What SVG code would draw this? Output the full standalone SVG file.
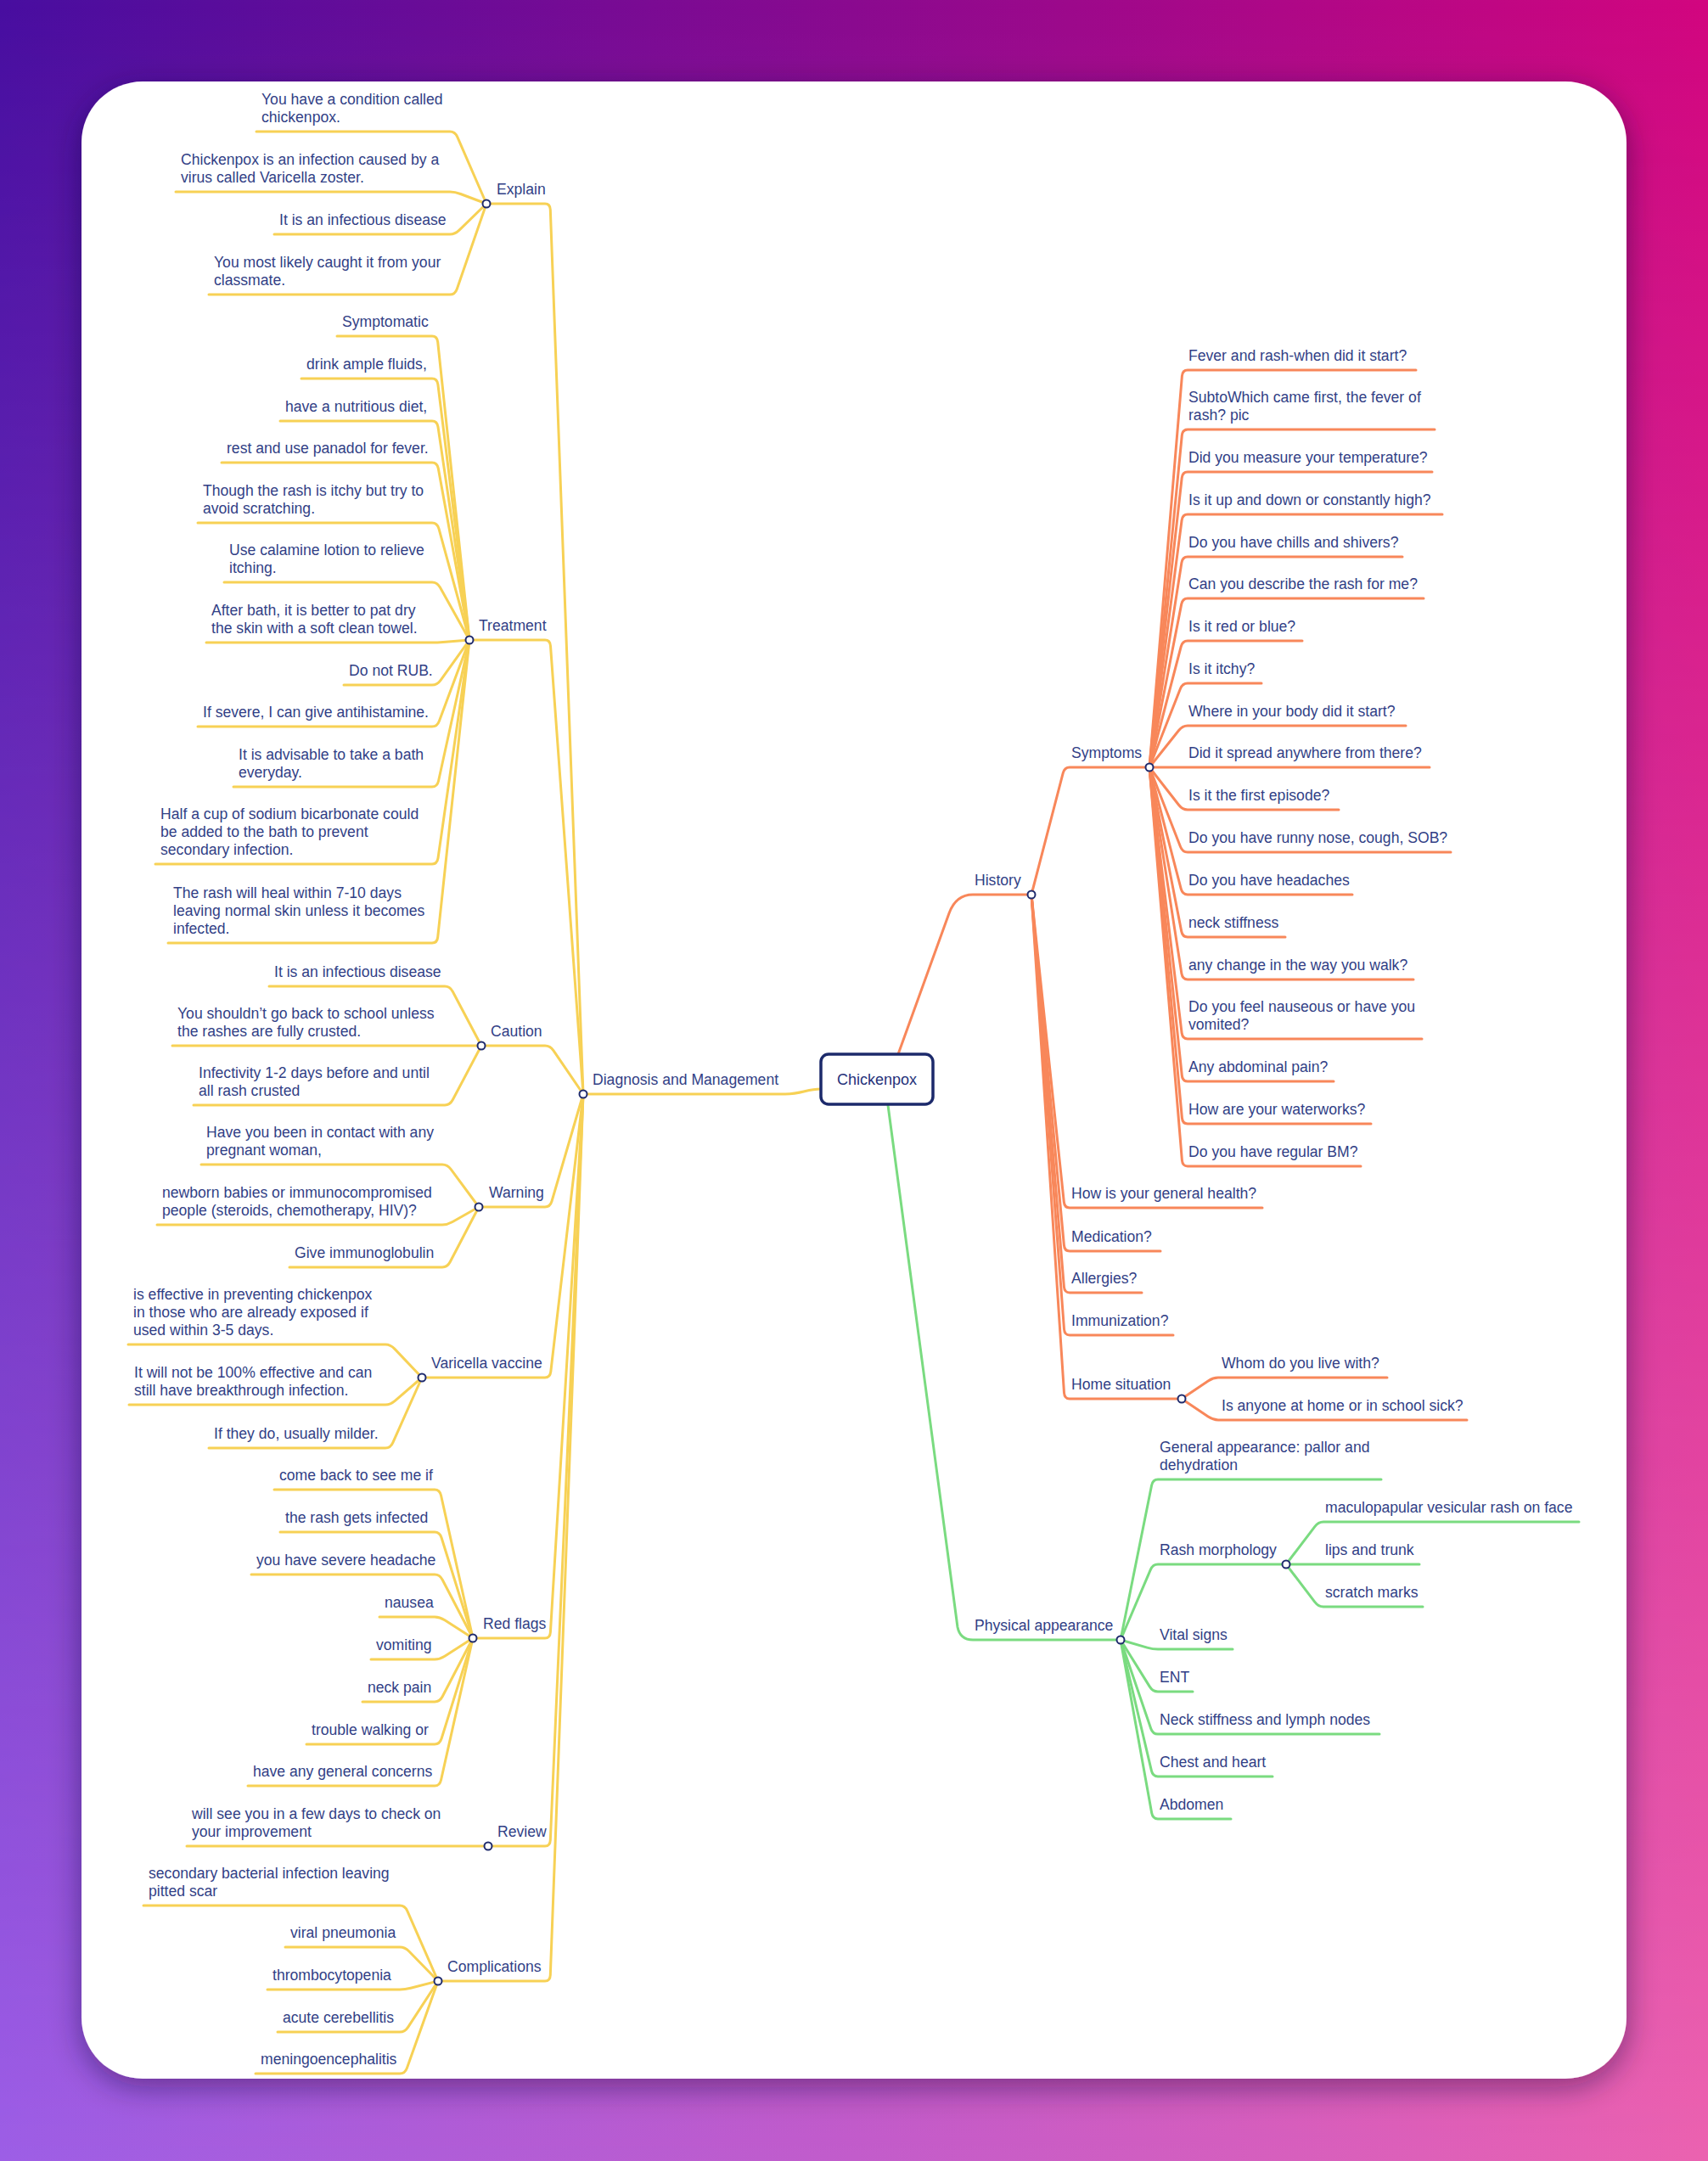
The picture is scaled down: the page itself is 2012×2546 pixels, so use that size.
<svg xmlns="http://www.w3.org/2000/svg" width="2012" height="2546" viewBox="0 0 2012 2546">
<defs>
<linearGradient id="bgTop" x1="0" y1="0" x2="1" y2="0">
<stop offset="0" stop-color="#480ea0"/>
<stop offset="0.5" stop-color="#8a0a8f"/>
<stop offset="1" stop-color="#d2067f"/>
</linearGradient>
<linearGradient id="bgBot" x1="0" y1="0" x2="1" y2="0">
<stop offset="0" stop-color="#9d5ee6"/>
<stop offset="0.5" stop-color="#c25ccb"/>
<stop offset="1" stop-color="#eb62b0"/>
</linearGradient>
<linearGradient id="fadeV" x1="0" y1="0" x2="0" y2="1">
<stop offset="0" stop-color="#000"/>
<stop offset="1" stop-color="#fff"/>
</linearGradient>
<mask id="bgMask"><rect x="0" y="0" width="2012" height="2546" fill="url(#fadeV)"/></mask>
<filter id="shadow" x="-5%" y="-5%" width="110%" height="110%">
<feDropShadow dx="0" dy="10" stdDeviation="18" flood-color="#1a0630" flood-opacity="0.45"/>
</filter>
</defs>
<style>
.t{font-family:"Liberation Sans",Arial,sans-serif;font-size:17.6px;fill:#323f86}
.c{font-family:"Liberation Sans",Arial,sans-serif;font-size:18px;fill:#25327a;text-anchor:middle}
.y{fill:none;stroke:#f7d155;stroke-width:3;stroke-linecap:round;stroke-linejoin:round}
.o{fill:none;stroke:#f8875a;stroke-width:3;stroke-linecap:round;stroke-linejoin:round}
.g{fill:none;stroke:#7adb80;stroke-width:3;stroke-linecap:round;stroke-linejoin:round}
.d{fill:#fff;stroke:#1f2b6d;stroke-width:2}
</style>
<rect x="0" y="0" width="2012" height="2546" fill="url(#bgTop)"/>
<rect x="0" y="0" width="2012" height="2546" fill="url(#bgBot)" mask="url(#bgMask)"/>
<rect x="96" y="96" width="1820" height="2353" rx="72" fill="#fff" filter="url(#shadow)"/>

<g id="connectors">
<!-- Explain -->
<path class="y" d="M302,155 H530 Q536,155 538.8,161.4 L573,240"/>
<path class="y" d="M207,226 H530 Q536,226 542.5,228.5 L573,240"/>
<path class="y" d="M323,276 H530 Q536,276 541,271.1 L573,240"/>
<path class="y" d="M246,347 H530 Q536,347 538.3,340.4 L573,240"/>
<path class="y" d="M573,240 H642 Q648,240 648.3,247 L687,1289"/>
<!-- Treatment -->
<path class="y" d="M397,396 H509 Q515,396 515.7,403 L553,754"/>
<path class="y" d="M355,446 H509 Q515,446 515.9,453 L553,754"/>
<path class="y" d="M330,496 H509 Q515,496 516,503 L553,754"/>
<path class="y" d="M261,545 H509 Q515,545 516.3,551.9 L553,754"/>
<path class="y" d="M233,616 H509 Q515,616 516.9,622.7 L553,754"/>
<path class="y" d="M264,686 H509 Q515,686 518.4,692.1 L553,754"/>
<path class="y" d="M243,757 H509 Q515,757 522,756.5 L553,754"/>
<path class="y" d="M405,807 H509 Q515,807 519.1,801.3 L553,754"/>
<path class="y" d="M233,856 H509 Q515,856 517.4,849.4 L553,754"/>
<path class="y" d="M275,927 H509 Q515,927 516.5,920.2 L553,754"/>
<path class="y" d="M183,1018 H509 Q515,1018 516,1011 L553,754"/>
<path class="y" d="M198,1111 H509 Q515,1111 515.7,1104 L553,754"/>
<path class="y" d="M553,754 H642 Q648,754 648.5,761 L687,1289"/>
<!-- Caution -->
<path class="y" d="M317,1162 H524 Q530,1162 533.3,1168.2 L567,1232"/>
<path class="y" d="M203,1232 H567"/>
<path class="y" d="M228,1302 H524 Q530,1302 533.3,1295.8 L567,1232"/>
<path class="y" d="M567,1232 H642 Q648,1232 651.9,1237.7 L687,1289"/>
<!-- Warning -->
<path class="y" d="M237,1372 H521 Q527,1372 531.2,1377.6 L564,1422"/>
<path class="y" d="M185,1443 H521 Q527,1443 533.1,1439.5 L564,1422"/>
<path class="y" d="M341,1493 H521 Q527,1493 530.2,1486.8 L564,1422"/>
<path class="y" d="M564,1422 H642 Q648,1422 650,1415.3 L687,1289"/>
<!-- Varicella vaccine -->
<path class="y" d="M151,1584 H454 Q460,1584 464.8,1589.1 L497,1623"/>
<path class="y" d="M152,1655 H454 Q460,1655 465.3,1650.4 L497,1623"/>
<path class="y" d="M246,1706 H454 Q460,1706 462.8,1699.6 L497,1623"/>
<path class="y" d="M497,1623 H642 Q648,1623 648.8,1616 L687,1289"/>
<!-- Red flags -->
<path class="y" d="M323,1755 H512 Q518,1755 519.5,1761.8 L557,1930"/>
<path class="y" d="M330,1805 H512 Q518,1805 520.1,1811.7 L557,1930"/>
<path class="y" d="M296,1855 H512 Q518,1855 521.2,1861.2 L557,1930"/>
<path class="y" d="M447,1905 H512 Q518,1905 523.9,1908.8 L557,1930"/>
<path class="y" d="M437,1955 H512 Q518,1955 523.9,1951.2 L557,1930"/>
<path class="y" d="M427,2005 H512 Q518,2005 521.2,1998.8 L557,1930"/>
<path class="y" d="M361,2055 H512 Q518,2055 520.1,2048.3 L557,1930"/>
<path class="y" d="M292,2104 H512 Q518,2104 519.5,2097.2 L557,1930"/>
<path class="y" d="M557,1930 H642 Q648,1930 648.4,1923 L687,1289"/>
<!-- Review -->
<path class="y" d="M220,2175 H575"/>
<path class="y" d="M575,2175 H642 Q648,2175 648.3,2168 L687,1289"/>
<!-- Complications -->
<path class="y" d="M169,2245 H471 Q477,2245 479.8,2251.4 L516,2334"/>
<path class="y" d="M336,2294 H471 Q477,2294 481.9,2299 L516,2334"/>
<path class="y" d="M315,2344 H471 Q477,2344 483.8,2342.3 L516,2334"/>
<path class="y" d="M327,2394 H471 Q477,2394 480.8,2388.1 L516,2334"/>
<path class="y" d="M301,2443 H471 Q477,2443 479.4,2436.4 L516,2334"/>
<path class="y" d="M516,2334 H642 Q648,2334 648.3,2327 L687,1289"/>
<!-- Diagnosis and Management to centre -->
<path class="y" d="M687,1289 H925 C945,1289 950,1283 967,1283"/>
<!-- History -->
<path class="o" d="M1058,1242 L1118,1076 Q1126,1054 1146,1054 H1215"/>
<path class="o" d="M1215,1054 L1252.2,910.8 Q1254,904 1260,904 H1354"/>
<path class="o" d="M1215,1054 L1253.3,1416 Q1254,1423 1260,1423 H1487"/>
<path class="o" d="M1215,1054 L1253.4,1467 Q1254,1474 1260,1474 H1367"/>
<path class="o" d="M1215,1054 L1253.4,1516 Q1254,1523 1260,1523 H1345"/>
<path class="o" d="M1215,1054 L1253.5,1566 Q1254,1573 1260,1573 H1382"/>
<path class="o" d="M1215,1054 L1253.5,1641 Q1254,1648 1260,1648 H1392"/>
<!-- Symptoms children -->
<path class="o" d="M1354,904 L1392.4,443 Q1393,436 1399,436 H1668"/>
<path class="o" d="M1354,904 L1392.3,513 Q1393,506 1399,506 H1690"/>
<path class="o" d="M1354,904 L1392.2,563 Q1393,556 1399,556 H1687"/>
<path class="o" d="M1354,904 L1392.1,613 Q1393,606 1399,606 H1699"/>
<path class="o" d="M1354,904 L1391.9,662.9 Q1393,656 1399,656 H1652"/>
<path class="o" d="M1354,904 L1391.7,711.9 Q1393,705 1399,705 H1677"/>
<path class="o" d="M1354,904 L1391.2,761.8 Q1393,755 1399,755 H1534"/>
<path class="o" d="M1354,904 L1390.4,811.5 Q1393,805 1399,805 H1486"/>
<path class="o" d="M1354,904 L1388.6,860.5 Q1393,855 1399,855 H1656"/>
<path class="o" d="M1354,904 H1684"/>
<path class="o" d="M1354,904 L1388.7,948.5 Q1393,954 1399,954 H1577"/>
<path class="o" d="M1354,904 L1390.5,997.5 Q1393,1004 1399,1004 H1709"/>
<path class="o" d="M1354,904 L1391.2,1047.2 Q1393,1054 1399,1054 H1593"/>
<path class="o" d="M1354,904 L1391.7,1097.1 Q1393,1104 1399,1104 H1514"/>
<path class="o" d="M1354,904 L1391.9,1147.1 Q1393,1154 1399,1154 H1665"/>
<path class="o" d="M1354,904 L1392.1,1217 Q1393,1224 1399,1224 H1675"/>
<path class="o" d="M1354,904 L1392.3,1267 Q1393,1274 1399,1274 H1571"/>
<path class="o" d="M1354,904 L1392.4,1317 Q1393,1324 1399,1324 H1615"/>
<path class="o" d="M1354,904 L1392.4,1367 Q1393,1374 1399,1374 H1603"/>
<!-- Home situation children -->
<path class="o" d="M1392,1648 L1423.2,1626.9 Q1429,1623 1435,1623 H1634"/>
<path class="o" d="M1392,1648 L1423.2,1669.1 Q1429,1673 1435,1673 H1728"/>
<!-- Physical appearance -->
<path class="g" d="M1046,1302 L1128,1917 Q1131,1932 1146,1932 H1320"/>
<path class="g" d="M1320,1932 L1356.6,1750 Q1358,1743 1364,1743 H1627"/>
<path class="g" d="M1320,1932 L1355.3,1849.4 Q1358,1843 1364,1843 H1515"/>
<path class="g" d="M1320,1932 L1351.3,1941.1 Q1358,1943 1364,1943 H1452"/>
<path class="g" d="M1320,1932 L1354.3,1987.1 Q1358,1993 1364,1993 H1405"/>
<path class="g" d="M1320,1932 L1355.7,2036.4 Q1358,2043 1364,2043 H1625"/>
<path class="g" d="M1320,1932 L1356.4,2086.2 Q1358,2093 1364,2093 H1499"/>
<path class="g" d="M1320,1932 L1356.7,2136.1 Q1358,2143 1364,2143 H1450"/>
<path class="g" d="M1515,1843 L1548.8,1798.6 Q1553,1793 1559,1793 H1860"/>
<path class="g" d="M1515,1843 H1672"/>
<path class="g" d="M1515,1843 L1548.8,1887.4 Q1553,1893 1559,1893 H1676"/>
</g>

<g id="n-chickenpox">
<rect x="967" y="1242" width="132" height="59" rx="9" fill="#fff" stroke="#1c2a6b" stroke-width="3.5"/>
<text class="c" x="1033" y="1278">Chickenpox</text>
</g>

<g id="n-dm"><circle class="d" cx="687" cy="1289" r="4.5"/><text class="t" x="698" y="1278">Diagnosis and Management</text></g>

<g id="n-explain"><circle class="d" cx="573" cy="240" r="4.5"/><text class="t" x="585" y="229">Explain</text></g>
<g id="n-explain-1"><text class="t" x="308" y="123">You have a condition called<tspan x="308" dy="21">chickenpox.</tspan></text></g>
<g id="n-explain-2"><text class="t" x="213" y="194">Chickenpox is an infection caused by a<tspan x="213" dy="21">virus called Varicella zoster.</tspan></text></g>
<g id="n-explain-3"><text class="t" x="329" y="265">It is an infectious disease</text></g>
<g id="n-explain-4"><text class="t" x="252" y="315">You most likely caught it from your<tspan x="252" dy="21">classmate.</tspan></text></g>

<g id="n-treatment"><circle class="d" cx="553" cy="754" r="4.5"/><text class="t" x="564" y="743">Treatment</text></g>
<g id="n-treatment-1"><text class="t" x="403" y="385">Symptomatic</text></g>
<g id="n-treatment-2"><text class="t" x="361" y="435">drink ample fluids,</text></g>
<g id="n-treatment-3"><text class="t" x="336" y="485">have a nutritious diet,</text></g>
<g id="n-treatment-4"><text class="t" x="267" y="534">rest and use panadol for fever.</text></g>
<g id="n-treatment-5"><text class="t" x="239" y="584">Though the rash is itchy but try to<tspan x="239" dy="21">avoid scratching.</tspan></text></g>
<g id="n-treatment-6"><text class="t" x="270" y="654">Use calamine lotion to relieve<tspan x="270" dy="21">itching.</tspan></text></g>
<g id="n-treatment-7"><text class="t" x="249" y="725">After bath, it is better to pat dry<tspan x="249" dy="21">the skin with a soft clean towel.</tspan></text></g>
<g id="n-treatment-8"><text class="t" x="411" y="796">Do not RUB.</text></g>
<g id="n-treatment-9"><text class="t" x="239" y="845">If severe, I can give antihistamine.</text></g>
<g id="n-treatment-10"><text class="t" x="281" y="895">It is advisable to take a bath<tspan x="281" dy="21">everyday.</tspan></text></g>
<g id="n-treatment-11"><text class="t" x="189" y="965">Half a cup of sodium bicarbonate could<tspan x="189" dy="21">be added to the bath to prevent</tspan><tspan x="189" dy="21">secondary infection.</tspan></text></g>
<g id="n-treatment-12"><text class="t" x="204" y="1058">The rash will heal within 7-10 days<tspan x="204" dy="21">leaving normal skin unless it becomes</tspan><tspan x="204" dy="21">infected.</tspan></text></g>

<g id="n-caution"><circle class="d" cx="567" cy="1232" r="4.5"/><text class="t" x="578" y="1221">Caution</text></g>
<g id="n-caution-1"><text class="t" x="323" y="1151">It is an infectious disease</text></g>
<g id="n-caution-2"><text class="t" x="209" y="1200">You shouldn’t go back to school unless<tspan x="209" dy="21">the rashes are fully crusted.</tspan></text></g>
<g id="n-caution-3"><text class="t" x="234" y="1270">Infectivity 1-2 days before and until<tspan x="234" dy="21">all rash crusted</tspan></text></g>

<g id="n-warning"><circle class="d" cx="564" cy="1422" r="4.5"/><text class="t" x="576" y="1411">Warning</text></g>
<g id="n-warning-1"><text class="t" x="243" y="1340">Have you been in contact with any<tspan x="243" dy="21">pregnant woman,</tspan></text></g>
<g id="n-warning-2"><text class="t" x="191" y="1411">newborn babies or immunocompromised<tspan x="191" dy="21">people (steroids, chemotherapy, HIV)?</tspan></text></g>
<g id="n-warning-3"><text class="t" x="347" y="1482">Give immunoglobulin</text></g>

<g id="n-vaccine"><circle class="d" cx="497" cy="1623" r="4.5"/><text class="t" x="508" y="1612">Varicella vaccine</text></g>
<g id="n-vaccine-1"><text class="t" x="157" y="1531">is effective in preventing chickenpox<tspan x="157" dy="21">in those who are already exposed if</tspan><tspan x="157" dy="21">used within 3-5 days.</tspan></text></g>
<g id="n-vaccine-2"><text class="t" x="158" y="1623">It will not be 100% effective and can<tspan x="158" dy="21">still have breakthrough infection.</tspan></text></g>
<g id="n-vaccine-3"><text class="t" x="252" y="1695">If they do, usually milder.</text></g>

<g id="n-redflags"><circle class="d" cx="557" cy="1930" r="4.5"/><text class="t" x="569" y="1919">Red flags</text></g>
<g id="n-redflags-1"><text class="t" x="329" y="1744">come back to see me if</text></g>
<g id="n-redflags-2"><text class="t" x="336" y="1794">the rash gets infected</text></g>
<g id="n-redflags-3"><text class="t" x="302" y="1844">you have severe headache</text></g>
<g id="n-redflags-4"><text class="t" x="453" y="1894">nausea</text></g>
<g id="n-redflags-5"><text class="t" x="443" y="1944">vomiting</text></g>
<g id="n-redflags-6"><text class="t" x="433" y="1994">neck pain</text></g>
<g id="n-redflags-7"><text class="t" x="367" y="2044">trouble walking or</text></g>
<g id="n-redflags-8"><text class="t" x="298" y="2093">have any general concerns</text></g>

<g id="n-review"><circle class="d" cx="575" cy="2175" r="4.5"/><text class="t" x="586" y="2164">Review</text></g>
<g id="n-review-1"><text class="t" x="226" y="2143">will see you in a few days to check on<tspan x="226" dy="21">your improvement</tspan></text></g>

<g id="n-complications"><circle class="d" cx="516" cy="2334" r="4.5"/><text class="t" x="527" y="2323">Complications</text></g>
<g id="n-complications-1"><text class="t" x="175" y="2213">secondary bacterial infection leaving<tspan x="175" dy="21">pitted scar</tspan></text></g>
<g id="n-complications-2"><text class="t" x="342" y="2283">viral pneumonia</text></g>
<g id="n-complications-3"><text class="t" x="321" y="2333">thrombocytopenia</text></g>
<g id="n-complications-4"><text class="t" x="333" y="2383">acute cerebellitis</text></g>
<g id="n-complications-5"><text class="t" x="307" y="2432">meningoencephalitis</text></g>

<g id="n-history"><circle class="d" cx="1215" cy="1054" r="4.5"/><text class="t" x="1148" y="1043">History</text></g>
<g id="n-symptoms"><circle class="d" cx="1354" cy="904" r="4.5"/><text class="t" x="1262" y="893">Symptoms</text></g>
<g id="n-symptoms-1"><text class="t" x="1400" y="425">Fever and rash-when did it start?</text></g>
<g id="n-symptoms-2"><text class="t" x="1400" y="474">SubtoWhich came first, the fever of<tspan x="1400" dy="21">rash? pic</tspan></text></g>
<g id="n-symptoms-3"><text class="t" x="1400" y="545">Did you measure your temperature?</text></g>
<g id="n-symptoms-4"><text class="t" x="1400" y="595">Is it up and down or constantly high?</text></g>
<g id="n-symptoms-5"><text class="t" x="1400" y="645">Do you have chills and shivers?</text></g>
<g id="n-symptoms-6"><text class="t" x="1400" y="694">Can you describe the rash for me?</text></g>
<g id="n-symptoms-7"><text class="t" x="1400" y="744">Is it red or blue?</text></g>
<g id="n-symptoms-8"><text class="t" x="1400" y="794">Is it itchy?</text></g>
<g id="n-symptoms-9"><text class="t" x="1400" y="844">Where in your body did it start?</text></g>
<g id="n-symptoms-10"><text class="t" x="1400" y="893">Did it spread anywhere from there?</text></g>
<g id="n-symptoms-11"><text class="t" x="1400" y="943">Is it the first episode?</text></g>
<g id="n-symptoms-12"><text class="t" x="1400" y="993">Do you have runny nose, cough, SOB?</text></g>
<g id="n-symptoms-13"><text class="t" x="1400" y="1043">Do you have headaches</text></g>
<g id="n-symptoms-14"><text class="t" x="1400" y="1093">neck stiffness</text></g>
<g id="n-symptoms-15"><text class="t" x="1400" y="1143">any change in the way you walk?</text></g>
<g id="n-symptoms-16"><text class="t" x="1400" y="1192">Do you feel nauseous or have you<tspan x="1400" dy="21">vomited?</tspan></text></g>
<g id="n-symptoms-17"><text class="t" x="1400" y="1263">Any abdominal pain?</text></g>
<g id="n-symptoms-18"><text class="t" x="1400" y="1313">How are your waterworks?</text></g>
<g id="n-symptoms-19"><text class="t" x="1400" y="1363">Do you have regular BM?</text></g>
<g id="n-health"><text class="t" x="1262" y="1412">How is your general health?</text></g>
<g id="n-medication"><text class="t" x="1262" y="1463">Medication?</text></g>
<g id="n-allergies"><text class="t" x="1262" y="1512">Allergies?</text></g>
<g id="n-immunization"><text class="t" x="1262" y="1562">Immunization?</text></g>
<g id="n-home"><circle class="d" cx="1392" cy="1648" r="4.5"/><text class="t" x="1262" y="1637">Home situation</text></g>
<g id="n-home-1"><text class="t" x="1439" y="1612">Whom do you live with?</text></g>
<g id="n-home-2"><text class="t" x="1439" y="1662">Is anyone at home or in school sick?</text></g>

<g id="n-physical"><circle class="d" cx="1320" cy="1932" r="4.5"/><text class="t" x="1148" y="1921">Physical appearance</text></g>
<g id="n-physical-1"><text class="t" x="1366" y="1711">General appearance: pallor and<tspan x="1366" dy="21">dehydration</tspan></text></g>
<g id="n-rash"><circle class="d" cx="1515" cy="1843" r="4.5"/><text class="t" x="1366" y="1832">Rash morphology</text></g>
<g id="n-rash-1"><text class="t" x="1561" y="1782">maculopapular vesicular rash on face</text></g>
<g id="n-rash-2"><text class="t" x="1561" y="1832">lips and trunk</text></g>
<g id="n-rash-3"><text class="t" x="1561" y="1882">scratch marks</text></g>
<g id="n-physical-3"><text class="t" x="1366" y="1932">Vital signs</text></g>
<g id="n-physical-4"><text class="t" x="1366" y="1982">ENT</text></g>
<g id="n-physical-5"><text class="t" x="1366" y="2032">Neck stiffness and lymph nodes</text></g>
<g id="n-physical-6"><text class="t" x="1366" y="2082">Chest and heart</text></g>
<g id="n-physical-7"><text class="t" x="1366" y="2132">Abdomen</text></g>
</svg>
